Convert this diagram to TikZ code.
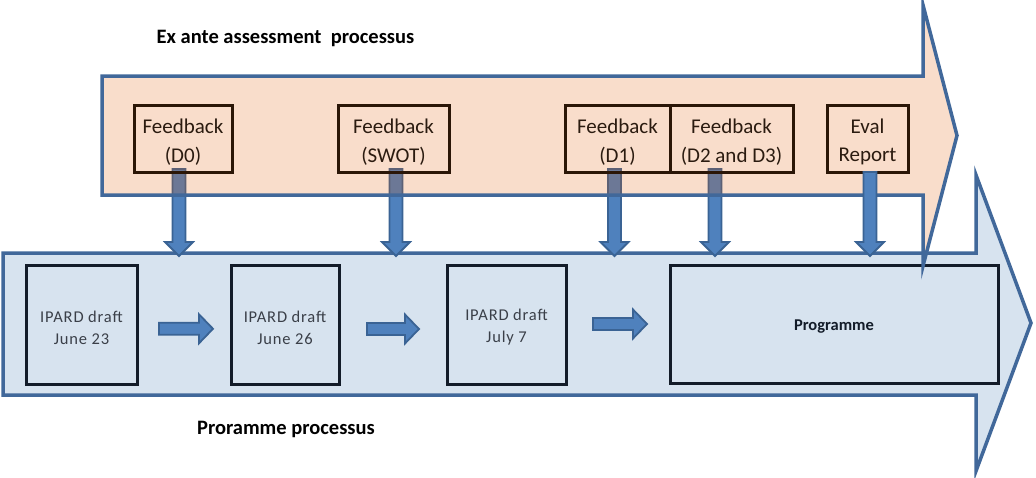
\documentclass[tikz,border=0pt]{standalone}
\usepackage{fontspec}
\setmainfont{Carlito}
\definecolor{peachbase}{RGB}{226,89,0}
\definecolor{lightblue}{HTML}{D7E3EF}
\definecolor{outline}{HTML}{41689A}
\definecolor{boxdark}{HTML}{131C29}
\definecolor{fbborder}{HTML}{2B1607}
\definecolor{fbtext}{HTML}{2B1B10}
\definecolor{drafttext}{HTML}{3A3F48}
\definecolor{arrowfill}{HTML}{4F81BD}
\definecolor{arrowedge}{HTML}{3A6394}
\newcommand\fbstrut{\rule{0pt}{21.5pt}}
\newcommand\drstrut{\rule{0pt}{17.5pt}}
\newcommand\dnarrow[3]{%
  \draw[blockarrow] (#1-6.5,#2) -- (#1+6.5,#2) -- (#1+6.5,#3-14) -- (#1+14,#3-14)
    -- (#1,#3) -- (#1-14,#3-14) -- (#1-6.5,#3-14) -- cycle;}
\newcommand\rtarrow[3]{%
  \draw[blockarrow] (#1,#3-6) -- (#2-14,#3-6) -- (#2-14,#3-14.5) -- (#2,#3)
    -- (#2-14,#3+14.5) -- (#2-14,#3+6) -- (#1,#3+6) -- cycle;}
\begin{document}
\begin{tikzpicture}[x=1pt,y=-1pt,
  bigarrow/.style={draw=outline,line width=3.5,miter limit=20},
  blockarrow/.style={fill=arrowfill,draw=arrowedge,line width=1.8},
  fbbox/.style={draw=fbborder,line width=3,minimum height=67,inner sep=0,
    align=center,text=fbtext,font=\fontsize{21}{28.5}\selectfont},
  draftbox/.style={draw=boxdark,line width=3,minimum height=119,inner sep=0,
    align=center,text=drafttext,font=\fontsize{16.5}{22}\selectfont\addfontfeature{LetterSpace=5}},
  title/.style={anchor=base,font=\fontsize{20.5}{24}\selectfont\bfseries}]
\useasboundingbox (0,0) rectangle (1036,477);
% programme process arrow
\draw[bigarrow,fill=lightblue] (3,253) -- (976,253) -- (976,175) -- (1031,323)
  -- (976,471) -- (976,395) -- (3,395) -- cycle;
\node[draftbox,minimum width=111] (b1) at (81.5,324.5) {\drstrut IPARD draft\\June 23};
\node[draftbox,minimum width=108] (b2) at (285,324.5) {\drstrut IPARD draft\\June 26};
\node[draftbox,minimum width=119] (b3) at (506.5,324.5) {\drstrut IPARD draft\\July 7};
\node[draftbox,minimum width=328,minimum height=118,text=boxdark,
  font=\fontsize{16.5}{22}\selectfont\bfseries,
  execute at begin node={\rule{0pt}{16.5pt}}] (prog) at (834,324) {Programme};
\rtarrow{159}{213}{328.8}
\rtarrow{367}{419}{329}
\rtarrow{593}{647}{324}
% feedback arrows lying under the assessment arrow
\dnarrow{179}{169}{256}
\dnarrow{396}{169}{256}
\dnarrow{614.5}{169}{256}
\dnarrow{715}{169}{256}
% ex ante assessment arrow
\draw[bigarrow,fill=peachbase,fill opacity=0.205] (102,76) -- (923,76) -- (923,5)
  -- (957,135.5) -- (923,266) -- (923,195) -- (102,195) -- cycle;
\node[fbbox,minimum width=98] (fb0) at (183,138.5) {\fbstrut Feedback\\(D0)};
\node[fbbox,minimum width=111] (fbs) at (393.5,138.5) {\fbstrut Feedback\\(SWOT)};
\node[fbbox,minimum width=105] (fb1) at (617.5,138.5) {\fbstrut Feedback\\(D1)};
\node[fbbox,minimum width=123] (fb23) at (731.5,138.5) {\fbstrut Feedback\\(D2 and D3)};
\node[fbbox,minimum width=81] (fbe) at (867.5,138.5) {\fbstrut Eval\\Report};
\dnarrow{870}{172}{256}
% titles
\node[title] (t1) at (285.5,43) {Ex ante assessment\ \ processus};
\node[title] (t2) at (286,434) {Proramme processus};
\end{tikzpicture}
\end{document}
